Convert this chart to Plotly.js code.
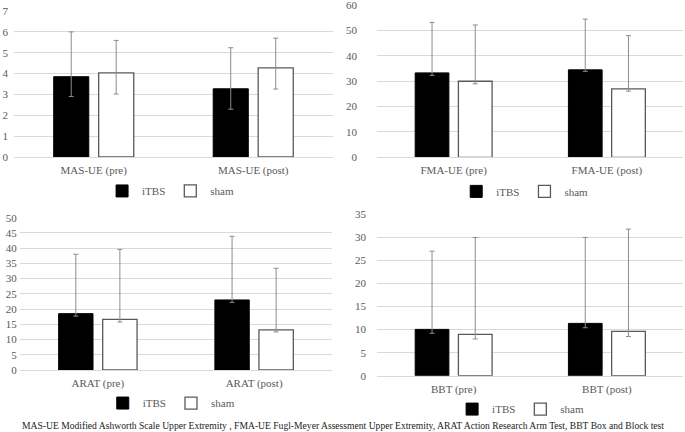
<!DOCTYPE html>
<html>
<head>
<meta charset="utf-8">
<script src="https://cdn.plot.ly/plotly-3.0.1.min.js"></script>
<style>
  html, body { margin: 0; padding: 0; background: #fff; }
  #grafico { width: 685px; height: 432px; }
</style>
</head>
<body>
<div id="grafico"></div>
<script>
// Barras iTBS vs sham con barras de error (pre / post) en cuatro escalas

// categorías de cada panel
const catMAS = ['MAS-UE (pre)', 'MAS-UE (post)'];
const catFMA = ['FMA-UE (pre)', 'FMA-UE (post)'];
const catARAT = ['ARAT (pre)', 'ARAT (post)'];
const catBBT = ['BBT (pre)', 'BBT (post)'];

// valores (media) y errores (arriba / abajo)
const masITBS = [3.85, 3.27];
const masSham = [4.03, 4.27];
const masITBSUp = [2.15, 1.97];
const masITBSDown = [0.95, 0.98];
const masShamUp = [1.56, 1.43];
const masShamDown = [1.01, 1.01];

const fmaITBS = [33.3, 34.5];
const fmaSham = [30.0, 27.0];
const fmaITBSUp = [19.9, 20.0];
const fmaITBSDown = [1.0, 0.6];
const fmaShamUp = [22.2, 21.0];
const fmaShamDown = [1.0, 0.9];

const aratITBS = [18.5, 23.0];
const aratSham = [16.6, 13.2];
const aratITBSUp = [19.5, 20.9];
const aratITBSDown = [0.8, 0.8];
const aratShamUp = [23.0, 20.2];
const aratShamDown = [0.85, 0.7];

const bbtITBS = [10.05, 11.35];
const bbtSham = [8.97, 9.6];
const bbtITBSUp = [16.95, 18.65];
const bbtITBSDown = [0.85, 0.95];
const bbtShamUp = [21.0, 22.2];
const bbtShamDown = [1.0, 1.1];

const nota = 'MAS-UE Modified Ashworth Scale Upper Extremity , FMA-UE Fugl-Meyer Assessment Upper Extremity, ARAT Action Research Arm Test, BBT Box and Block test';

const fuente = 'Liberation Serif, Times New Roman, serif';
const gris = '#595959';
const rejilla = '#d9d9d9';

function errorBar(up, down) {
    return {
        type: 'data', symmetric: false, array: up, arrayminus: down,
        color: '#8c8c8c', thickness: 1, width: 2.5
    };
}

function barras(cats, itbs, sham, itbsUp, itbsDown, shamUp, shamDown, n) {
    const suf = n === 1 ? '' : String(n);
    return [
        {
            type: 'bar', x: cats, y: itbs, name: 'iTBS',
            xaxis: 'x' + suf, yaxis: 'y' + suf, legend: 'legend' + suf,
            marker: { color: '#000', line: { color: '#000', width: 1 } },
            error_y: errorBar(itbsUp, itbsDown)
        },
        {
            type: 'bar', x: cats, y: sham, name: 'sham',
            xaxis: 'x' + suf, yaxis: 'y' + suf, legend: 'legend' + suf,
            marker: { color: '#fff', line: { color: gris, width: 1.3 } },
            error_y: errorBar(shamUp, shamDown)
        }
    ];
}

const data = [
    ...barras(catMAS, masITBS, masSham, masITBSUp, masITBSDown, masShamUp, masShamDown, 1),
    ...barras(catFMA, fmaITBS, fmaSham, fmaITBSUp, fmaITBSDown, fmaShamUp, fmaShamDown, 2),
    ...barras(catARAT, aratITBS, aratSham, aratITBSUp, aratITBSDown, aratShamUp, aratShamDown, 3),
    ...barras(catBBT, bbtITBS, bbtSham, bbtITBSUp, bbtITBSDown, bbtShamUp, bbtShamDown, 4)
];

function ejeX(dom, anchor) {
    return {
        domain: dom, anchor: anchor, type: 'category',
        showline: true, linecolor: rejilla, linewidth: 1,
        showgrid: false, ticks: '', ticklabelstandoff: 3,
        tickfont: { family: fuente, size: 11, color: gris },
        fixedrange: true
    };
}

function ejeY(dom, anchor, rango, dtick, standoff) {
    return {
        domain: dom, anchor: anchor, range: rango, dtick: dtick, tick0: 0,
        showline: false, zeroline: false, showgrid: true,
        gridcolor: rejilla, gridwidth: 1, ticks: '',
        ticklabelstandoff: standoff, ticklabeloverflow: 'allow',
        tickfont: { family: fuente, size: 11, color: gris },
        fixedrange: true
    };
}

function leyenda(x, y) {
    return {
        orientation: 'h', x: x, y: y, xanchor: 'center', yanchor: 'middle',
        bgcolor: 'rgba(0,0,0,0)', itemwidth: 30, tracegroupgap: 0,
        font: { family: fuente, size: 11, color: gris }
    };
}

const layout = {
    width: 685, height: 432,
    margin: { l: 0, r: 0, t: 0, b: 0 },
    paper_bgcolor: '#fff', plot_bgcolor: '#fff',
    font: { family: fuente },
    barmode: 'group', bargap: 0.436, bargroupgap: 0.22,
    showlegend: true,
    xaxis: ejeX([0.0204, 0.4861], 'y'),
    yaxis: ejeY([0.6366, 0.9745], 'x', [0, 7.001], 1, 5),
    xaxis2: ejeX([0.5504, 0.9978], 'y2'),
    yaxis2: ejeY([0.6359, 0.9880], 'x2', [0, 60.01], 10, 19),
    xaxis3: ejeX([0.0288, 0.4850], 'y3'),
    yaxis3: ejeY([0.1435, 0.4961], 'x3', [0, 50.01], 5, 2),
    xaxis4: ejeX([0.5504, 0.9978], 'y4'),
    yaxis4: ejeY([0.1303, 0.5039], 'x4', [0, 35.01], 5, 10),
    legend: leyenda(0.249, 0.558),
    legend2: leyenda(0.766, 0.557),
    legend3: leyenda(0.25, 0.067),
    legend4: leyenda(0.76, 0.053),
    annotations: [{
        text: nota, xref: 'paper', yref: 'paper', x: 0.501, y: 1 - 425 / 432,
        xanchor: 'center', yanchor: 'middle', showarrow: false,
        font: { family: fuente, size: 9.6, color: '#222' }
    }]
};

Plotly.newPlot('grafico', data, layout, { displayModeBar: false, staticPlot: true });
</script>
</body>
</html>
